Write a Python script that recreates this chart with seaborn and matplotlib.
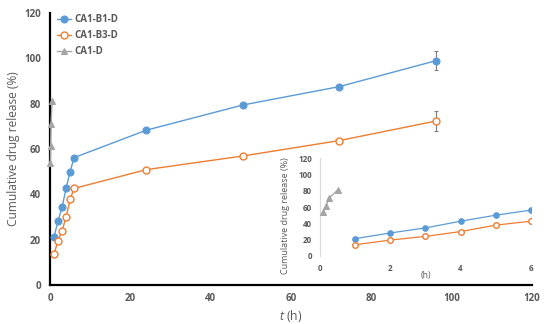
import matplotlib
matplotlib.use("Agg")
import matplotlib.pyplot as plt
import seaborn as sns
import pandas as pd

# ---- data ----
t_b1 = [1, 2, 3, 4, 5, 6, 24, 48, 72, 96]
b1 = [21.3, 28.2, 34.4, 42.6, 50.0, 56.2, 68.3, 79.4, 87.5, 98.9]
b1_err = [0, 0, 0, 0, 0, 0, 0, 0, 0, 4.2]

t_b3 = [1, 2, 3, 4, 5, 6, 24, 48, 72, 96]
b3 = [13.8, 19.5, 24.0, 29.9, 37.8, 42.6, 50.9, 56.9, 63.7, 72.3]
b3_err = [0, 0, 0, 0, 0, 0, 0, 0, 0, 4.5]

t_d = [0.083, 0.167, 0.25, 0.5]
d = [53.6, 61.3, 70.8, 81.0]

labels = ["CA1-B1-D", "CA1-B3-D", "CA1-D"]
main_xticks = [0, 20, 40, 60, 80, 100, 120]
main_yticks = [0, 20, 40, 60, 80, 100, 120]
inset_xticks = [0, 2, 4, 6]
inset_yticks = [0, 20, 40, 60, 80, 100, 120]

BLUE = "#5B9BD5"
ORANGE = "#ED7D31"
GRAY = "#A5A5A5"
TXT = "#595959"

sns.set_theme(style="white")
plt.rcParams["font.family"] = ["Open Sans", "DejaVu Sans"]
plt.rcParams["mathtext.fontset"] = "custom"
plt.rcParams["mathtext.it"] = "Open Sans:italic"

fig = plt.figure(figsize=(5.54, 3.24), dpi=100)
ax = fig.add_axes([0.0903, 0.1204, 0.870, 0.8396])

df_b1 = pd.DataFrame({"t": t_b1, "v": b1})
df_b3 = pd.DataFrame({"t": t_b3, "v": b3})
df_d = pd.DataFrame({"t": t_d, "v": d})


def draw(a, ms, lw, with_labels=True, clip=True):
    sns.lineplot(data=df_b1, x="t", y="v", ax=a, color=BLUE, lw=lw, marker="o",
                 markersize=ms, markerfacecolor=BLUE, markeredgecolor=BLUE,
                 markeredgewidth=0.8, label=labels[0] if with_labels else None,
                 legend=False, zorder=3, clip_on=clip)
    sns.lineplot(data=df_b3, x="t", y="v", ax=a, color=ORANGE, lw=lw, marker="o",
                 markersize=ms, markerfacecolor="white", markeredgecolor=ORANGE,
                 markeredgewidth=1.0, label=labels[1] if with_labels else None,
                 legend=False, zorder=3, clip_on=clip)
    sns.lineplot(data=df_d, x="t", y="v", ax=a, color=GRAY, lw=lw, marker="^",
                 markersize=ms, markerfacecolor=GRAY, markeredgecolor=GRAY,
                 markeredgewidth=0.8, label=labels[2] if with_labels else None,
                 legend=False, zorder=4, clip_on=False)


draw(ax, 5, 1.0, clip=False)
ax.errorbar(t_b1, b1, yerr=b1_err, fmt="none", ecolor="#7F7F7F", elinewidth=0.8,
            capsize=1.5, capthick=0.8, zorder=2)
ax.errorbar(t_b3, b3, yerr=b3_err, fmt="none", ecolor="#7F7F7F", elinewidth=0.8,
            capsize=1.5, capthick=0.8, zorder=2)

ax.set_xlim(0, 120)
ax.set_ylim(0, 120)
ax.set_xticks(main_xticks)
ax.set_yticks(main_yticks)
ax.tick_params(axis="both", labelsize=7, colors=TXT, length=3, width=1.2,
               direction="out")
ax.tick_params(axis="x", direction="inout", length=4)
for lab in ax.get_xticklabels() + ax.get_yticklabels():
    lab.set_fontweight("bold")
    lab.set_color(TXT)
ax.tick_params(axis="both", color="black")
for s in ["top", "right"]:
    ax.spines[s].set_visible(False)
for s in ["left", "bottom"]:
    ax.spines[s].set_color("black")
    ax.spines[s].set_linewidth(1.6)
ax.set_ylabel("Cumulative drug release (%)", fontsize=8.6, color=TXT, labelpad=3)
ax.set_xlabel("$t$ (h)", fontsize=8.8, color=TXT, labelpad=3)

leg = ax.legend(loc="upper left", bbox_to_anchor=(0.0, 1.02), frameon=False,
                fontsize=7, handlelength=1.5, handletextpad=0.3,
                labelspacing=0.5, borderaxespad=0.3)
for txt in leg.get_texts():
    txt.set_color(TXT)
    txt.set_fontweight("bold")

# ---- inset ----
axi = fig.add_axes([0.578, 0.21, 0.380, 0.302])
draw(axi, 4, 0.9, with_labels=False, clip=True)
axi.set_xlim(0, 6)
axi.set_ylim(0, 120)
axi.set_xticks(inset_xticks)
axi.set_yticks(inset_yticks)
axi.set_facecolor("white")
axi.tick_params(axis="both", labelsize=5.8, colors=TXT, length=0, pad=6)
for lab in axi.get_xticklabels() + axi.get_yticklabels():
    lab.set_fontweight("bold")
for s in ["top", "right", "bottom"]:
    axi.spines[s].set_visible(False)
axi.spines["left"].set_color("#D9D9D9")
axi.spines["left"].set_linewidth(0.8)
axi.set_ylabel("Cumulative drug release (%)", fontsize=6.5, color=TXT)
axi.yaxis.set_label_coords(-0.145, 0.41)
axi.set_xlabel("(h)", fontsize=6.3, color=TXT, labelpad=-2)

fig.savefig("out.png", dpi=100)
